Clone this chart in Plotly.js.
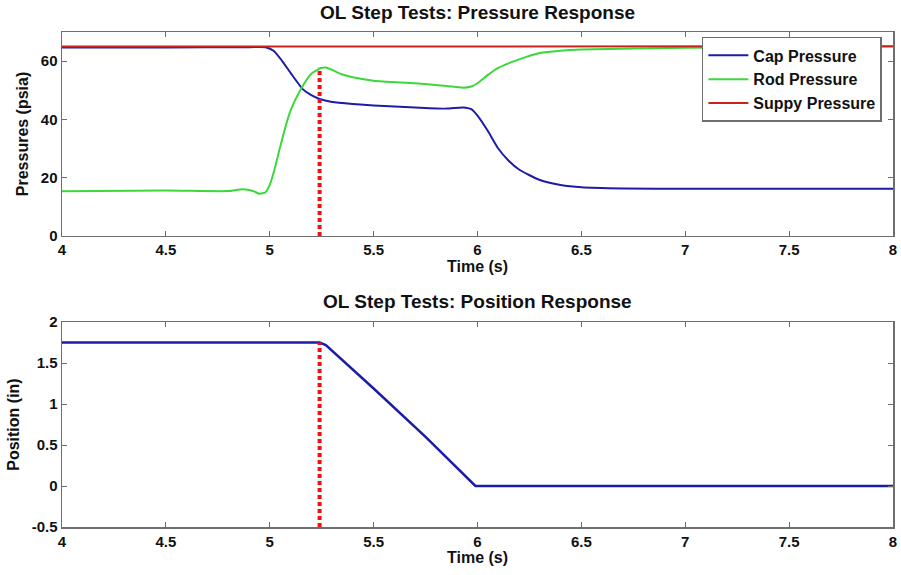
<!DOCTYPE html>
<html>
<head>
<meta charset="utf-8">
<script src="https://cdn.plot.ly/plotly-3.0.1.min.js"></script>
<style>
  html, body { margin: 0; padding: 0; background: #fff; }
  #chart { width: 901px; height: 575px; }
</style>
</head>
<body>
<div id="chart"></div>
<script>
// Open-loop step test: cylinder pressures and rod position vs time
const capTime = [4.0, 4.5, 4.9, 4.98, 5.02, 5.06, 5.1, 5.16, 5.2, 5.24, 5.3, 5.4, 5.5, 5.7, 5.85, 5.93, 5.97, 6.0, 6.05, 6.1, 6.15, 6.2, 6.3, 6.4, 6.5, 6.7, 7.0, 8.0];
const capPressure = [64.7, 64.7, 64.8, 64.8, 63.5, 60.0, 56.0, 50.3, 48.3, 47.0, 46.0, 45.3, 44.8, 44.1, 43.7, 44.1, 43.5, 41.3, 36.0, 30.0, 25.8, 22.8, 19.2, 17.5, 16.7, 16.3, 16.2, 16.2];

const rodTime = [4.0, 4.5, 4.8, 4.87, 4.92, 4.95, 4.98, 5.0, 5.02, 5.05, 5.08, 5.1, 5.15, 5.2, 5.25, 5.27, 5.3, 5.35, 5.4, 5.5, 5.7, 5.85, 5.93, 5.97, 6.0, 6.05, 6.1, 6.2, 6.3, 6.4, 6.5, 7.0, 7.5, 8.0];
const rodPressure = [15.3, 15.6, 15.4, 16.0, 15.4, 14.5, 15.0, 17.5, 22.0, 30.5, 38.5, 43.0, 50.4, 55.7, 57.7, 57.8, 57.0, 55.4, 54.5, 53.3, 52.4, 51.5, 50.9, 51.3, 52.4, 55.3, 57.7, 60.6, 62.8, 63.6, 64.0, 64.6, 64.8, 65.0];

const supplyTime = [4.0, 5.0, 6.0, 7.0, 8.0];
const supplyPressure = [65.0, 65.0, 65.1, 65.1, 65.1];

const posTime = [4.0, 5.0, 5.24, 5.27, 5.5, 5.75, 5.99, 6.02, 7.0, 8.0];
const position = [1.75, 1.75, 1.75, 1.72, 1.19, 0.6, 0.0, 0.0, 0.0, 0.0];

// Valve step instant, marked on both panels
const stepTime = 5.24;
const stepPressureRange = [0, 57.7];
const stepPositionRange = [-0.5, 1.75];

const legendNames = ['Cap Pressure', 'Rod Pressure', 'Suppy Pressure'];
const tickVals = [4, 4.5, 5, 5.5, 6, 6.5, 7, 7.5, 8];
const tickText = ['4', '4.5', '5', '5.5', '6', '6.5', '7', '7.5', '8'];

const FONT = 'Liberation Sans, Arial, Helvetica, sans-serif';
const BLUE = '#1c1ca6';
const GREEN = '#3ad83a';
const RED = '#c8241e';
const DOT = '#f01010';

const traces = [
  { x: capTime, y: capPressure, name: legendNames[0], mode: 'lines', line: { color: BLUE, width: 2, shape: 'spline', smoothing: 0.6 }, xaxis: 'x', yaxis: 'y' },
  { x: rodTime, y: rodPressure, name: legendNames[1], mode: 'lines', line: { color: GREEN, width: 2, shape: 'spline', smoothing: 0.6 }, xaxis: 'x', yaxis: 'y' },
  { x: supplyTime, y: supplyPressure, name: legendNames[2], mode: 'lines', line: { color: RED, width: 2 }, xaxis: 'x', yaxis: 'y' },
  { x: [stepTime, stepTime], y: stepPressureRange, mode: 'lines', line: { color: DOT, width: 4, dash: '4px,3px' }, xaxis: 'x', yaxis: 'y', showlegend: false },
  { x: posTime, y: position, mode: 'lines', line: { color: BLUE, width: 2.5 }, xaxis: 'x2', yaxis: 'y2', showlegend: false },
  { x: [stepTime, stepTime], y: stepPositionRange, mode: 'lines', line: { color: DOT, width: 4, dash: '4px,3px' }, xaxis: 'x2', yaxis: 'y2', showlegend: false }
];

const axisBase = {
  showgrid: false, zeroline: false,
  showline: true, linecolor: '#6e6e6e', linewidth: 1.5, mirror: 'ticks',
  ticks: 'inside', ticklen: 5, tickcolor: '#6e6e6e',
  tickfont: { family: FONT, size: 15, color: '#111', weight: 'bold' }
};

const titleFont = { family: FONT, size: 16, color: '#111', weight: 'bold' };
const headFont = { family: FONT, size: 19, color: '#111', weight: 'bold' };

const layout = {
  width: 901, height: 575,
  paper_bgcolor: '#fff', plot_bgcolor: '#fff',
  margin: { l: 62, r: 8, t: 32, b: 48 },
  showlegend: true,
  legend: {
    x: 0.770, y: 0.990, xanchor: 'left', yanchor: 'top',
    bgcolor: '#fff', bordercolor: '#6e6e6e', borderwidth: 1.5,
    font: { family: FONT, size: 16, color: '#111', weight: 'bold' },
    itemwidth: 40, tracegroupgap: 0
  },
  xaxis: Object.assign({}, axisBase, {
    domain: [0, 1], range: [4, 8], tickvals: tickVals, ticktext: tickText, anchor: 'y',
    title: { text: 'Time (s)', font: titleFont, standoff: 2 }
  }),
  yaxis: Object.assign({}, axisBase, {
    domain: [0.588, 1], range: [0, 70], tickvals: [0, 20, 40, 60], anchor: 'x',
    title: { text: 'Pressures (psia)', font: titleFont, standoff: 8 }
  }),
  xaxis2: Object.assign({}, axisBase, {
    domain: [0, 1], range: [4, 8], tickvals: tickVals, ticktext: tickText, anchor: 'y2',
    title: { text: 'Time (s)', font: titleFont, standoff: 2 }
  }),
  yaxis2: Object.assign({}, axisBase, {
    domain: [0, 0.414], range: [-0.5, 2], tickvals: [-0.5, 0, 0.5, 1, 1.5, 2],
    ticktext: ['-0.5', '0', '0.5', '1', '1.5', '2'], anchor: 'x2',
    title: { text: 'Position (in)', font: titleFont, standoff: 8 }
  }),
  annotations: [
    { text: 'OL Step Tests: Pressure Response', xref: 'paper', yref: 'paper', x: 0.5, y: 1, yshift: 20,
      xanchor: 'center', yanchor: 'middle', showarrow: false, font: headFont },
    { text: 'OL Step Tests: Position Response', xref: 'paper', yref: 'paper', x: 0.5, y: 0.414, yshift: 21,
      xanchor: 'center', yanchor: 'middle', showarrow: false, font: headFont }
  ]
};

Plotly.newPlot('chart', traces, layout, { displayModeBar: false, staticPlot: true });
</script>
</body>
</html>
